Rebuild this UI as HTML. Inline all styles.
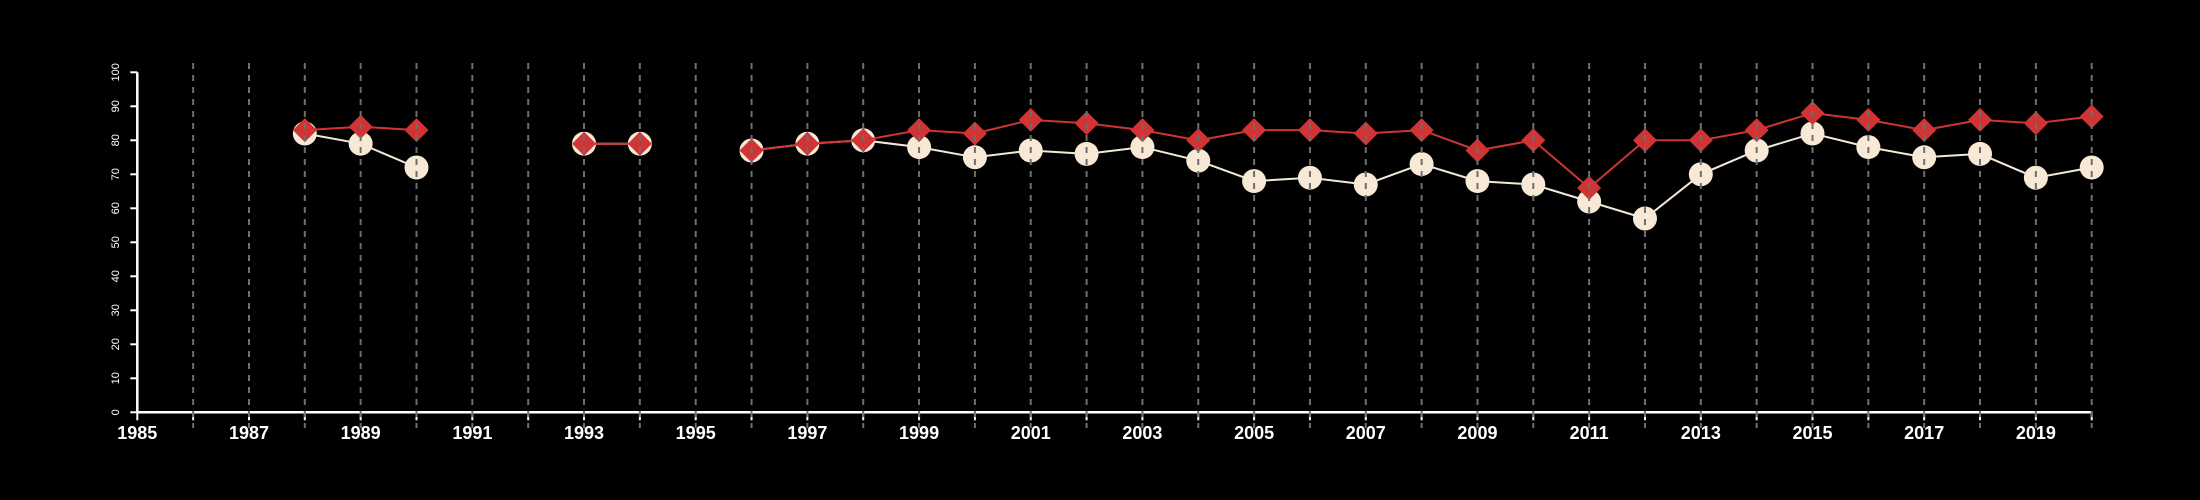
<!DOCTYPE html>
<html><head><meta charset="utf-8"><style>
html,body{margin:0;padding:0;background:#000;}
svg{display:block;font-family:"Liberation Sans",sans-serif;}
</style></head><body>
<svg id="chart" width="2200" height="500" viewBox="0 0 2200 500"></svg>
<script>
const years=[1988,1989,1990,1991,1992,1993,1994,1995,1996,1997,1998,1999,2000,2001,2002,2003,2004,2005,2006,2007,2008,2009,2010,2011,2012,2013,2014,2015,2016,2017,2018,2019,2020];
const seriesA=[82,79,72,null,null,79,79,null,77,79,80,78,75,77,76,78,74,68,69,67,73,68,67,62,57,70,77,82,78,75,76,69,72];
const seriesB=[83,84,83,null,null,79,79,null,77,79,80,83,82,86,85,83,80,83,83,82,83,77,80,66,80,80,83,88,86,83,86,85,87];
const yTicks=[0,10,20,30,40,50,60,70,80,90,100];
const xLabels=[1985,1987,1989,1991,1993,1995,1997,1999,2001,2003,2005,2007,2009,2011,2013,2015,2017,2019];
const xMin=1985,xMax=2020,x0=137.3,x1=2091.7,y0=412.3,y1=72.3;
const X=v=>x0+(v-xMin)/(xMax-xMin)*(x1-x0);
const Y=v=>y0+(v-0)/(100-0)*(y1-y0);
const svg=document.getElementById('chart');
const NS='http://www.w3.org/2000/svg';
function mk(tag,attrs,parent){const e=document.createElementNS(NS,tag);for(const k in attrs)e.setAttribute(k,attrs[k]);(parent||svg).appendChild(e);return e;}
let ax=mk('line',{x1:x0,x2:x0,y1:Y(100),y2:y0,stroke:'#fff','stroke-width':2.5});


ax=mk('line',{x1:x0,x2:x1,y1:y0,y2:y0,stroke:'#fff','stroke-width':2.5});


yTicks.forEach(t=>{
  mk('line',{x1:x0-7,x2:x0,y1:Y(t),y2:Y(t),stroke:'#fff','stroke-width':2});
  const tx=mk('text',{x:0,y:0,fill:'#fff','font-size':11,'text-anchor':'middle',transform:`translate(119,${Y(t)}) rotate(-90)`});
  tx.textContent=t;
  
  
});
for(let yr=xMin;yr<=xMax;yr++){
  mk('line',{x1:X(yr),x2:X(yr),y1:y0,y2:y0+8,stroke:'#fff','stroke-width':2});
}
xLabels.forEach(l=>{
  const tx=mk('text',{x:X(l),y:439,fill:'#fff','font-size':18,'font-weight':'bold','text-anchor':'middle'});
  tx.textContent=l;
  
  
});
function path(vals){let d='',pen=false;vals.forEach((v,i)=>{if(v==null){pen=false;return;}d+=(pen?'L':'M')+X(years[i])+' '+Y(v)+' ';pen=true;});return d;}
const la=mk('path',{d:path(seriesA),fill:'none',stroke:'#f5e8d8','stroke-width':2});


seriesA.forEach((v,i)=>{if(v==null)return;
  const c=mk('circle',{cx:X(years[i]),cy:Y(v),r:12,fill:'#f8e9d6'});
  
  
});
const lb=mk('path',{d:path(seriesB),fill:'none',stroke:'#d03434','stroke-width':2});


seriesB.forEach((v,i)=>{if(v==null)return;
  const cx=X(years[i]),cy=Y(v),r=12;
  const p=mk('path',{d:`M${cx} ${cy-r}L${cx+r} ${cy}L${cx} ${cy+r}L${cx-r} ${cy}Z`,fill:'#d03434'});
  
  
});
for(let yr=xMin+1;yr<=xMax;yr++){
  const g=mk('line',{x1:X(yr),x2:X(yr),y1:63,y2:428,stroke:'#6e6e6e','stroke-width':2,'stroke-dasharray':'6 6'});
  
  
}
</script>
</body></html>
